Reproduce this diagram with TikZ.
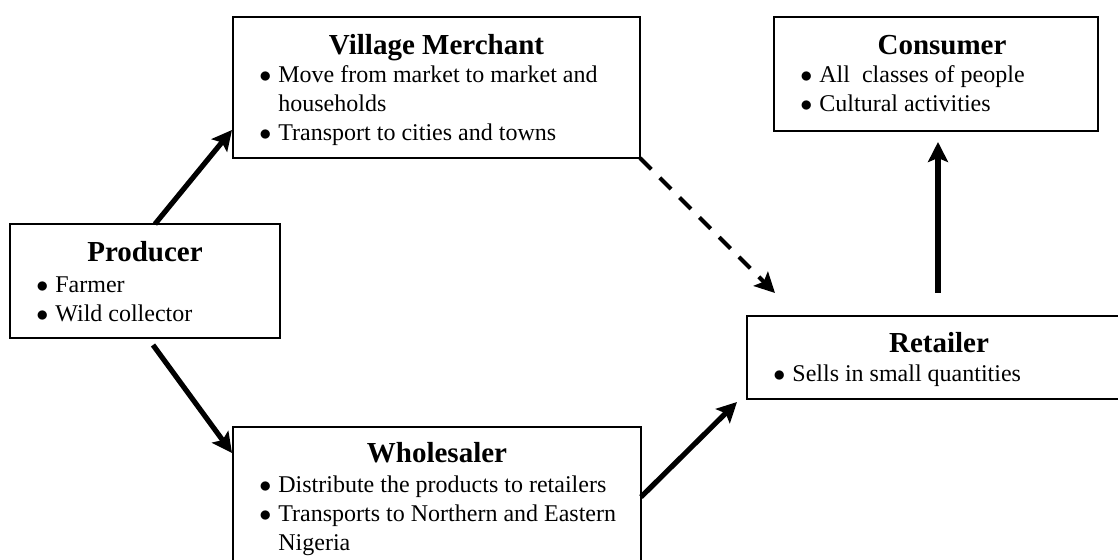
\documentclass[tikz,border=0pt]{standalone}
\usepackage{fontspec}
\setmainfont{Liberation Serif}
\usetikzlibrary{arrows.meta}
\newcommand{\bul}{\makebox[9.5pt][l]{$\bullet$}}

\begin{document}
\begin{tikzpicture}
[x=0.5pt,y=-0.5pt,
box/.style={rectangle,draw=black,line width=0.9pt,anchor=north west,inner sep=0pt,outer sep=0pt},
title/.style={anchor=base,inner sep=0pt,font=\fontsize{14.5}{17}\selectfont\bfseries},
items/.style={anchor=base west,inner sep=0pt,font=\fontsize{12}{14.3}\selectfont},
arr/.style={line width=2.6pt,-{Stealth[length=10pt,width=10pt,inset=2pt]}},
darr/.style={arr,line width=2pt,dash pattern=on 8pt off 6pt}]
\clip (0,0) rectangle (1118,560);

\node[box,minimum width=135pt,minimum height=57pt] (prod) at (10,224) {};
\node[box,minimum width=203.5pt,minimum height=70.5pt] (vil) at (233,17) {};
\node[box,minimum width=204pt,minimum height=80pt] (whole) at (233,427) {};
\node[box,minimum width=162pt,minimum height=57pt] (con) at (774,17) {};
\node[box,minimum width=192pt,minimum height=41.5pt] (ret) at (747,316) {};

\node[title] (prodtitle) at ([yshift=-19pt]prod.north) {Producer};
\node[title] (viltitle) at ([yshift=-19pt]vil.north) {Village Merchant};
\node[title] (wholetitle) at ([yshift=-18pt]whole.north) {Wholesaler};
\node[title] (contitle) at ([xshift=3pt,yshift=-19pt]con.north) {Consumer};
\node[title] (rettitle) at ([yshift=-18.5pt]ret.north) {Retailer};

\node[items] (prodlist) at ([yshift=-34.5pt]prod.north west) {\begin{tabular}[t]{@{\hspace{13pt}}l@{}l@{}}
\bul & Farmer\\ \bul & Wild collector\end{tabular}};
\node[items] (villist) at ([yshift=-33pt]vil.north west) {\begin{tabular}[t]{@{\hspace{13pt}}l@{}l@{}}
\bul & Move from market to market and\\ & households\\ \bul & Transport to cities and towns\end{tabular}};
\node[items] (wholelist) at ([yshift=-33pt]whole.north west) {\begin{tabular}[t]{@{\hspace{13pt}}l@{}l@{}}
\bul & Distribute the products to retailers\\ \bul & Transports to Northern and Eastern\\ & Nigeria\end{tabular}};
\node[items] (conlist) at ([yshift=-33pt]con.north west) {\begin{tabular}[t]{@{\hspace{13pt}}l@{}l@{}}
\bul & All\ \ classes of people\\ \bul & Cultural activities\end{tabular}};
\node[items] (retlist) at ([yshift=-33pt]ret.north west) {\begin{tabular}[t]{@{\hspace{13pt}}l@{}l@{}}
\bul & Sells in small quantities\end{tabular}};

\draw[arr] ([xshift=5pt]prod.north) -- ([xshift=-0.5pt,yshift=14pt]vil.south west);
\draw[arr] ([xshift=4pt,yshift=-3.5pt]prod.south) -- ([xshift=-0.5pt,yshift=-13pt]whole.north west);
\draw[arr] ([yshift=-35pt]whole.north east) -- ([xshift=-5pt,yshift=-1.5pt]ret.south west);
\draw[darr] (vil.south east) -- ([xshift=14pt,yshift=11.5pt]ret.north west);
\draw[arr] ([xshift=-0.5pt,yshift=11.5pt]ret.north) -- ([xshift=1pt,yshift=-5.5pt]con.south);
\end{tikzpicture}
\end{document}
